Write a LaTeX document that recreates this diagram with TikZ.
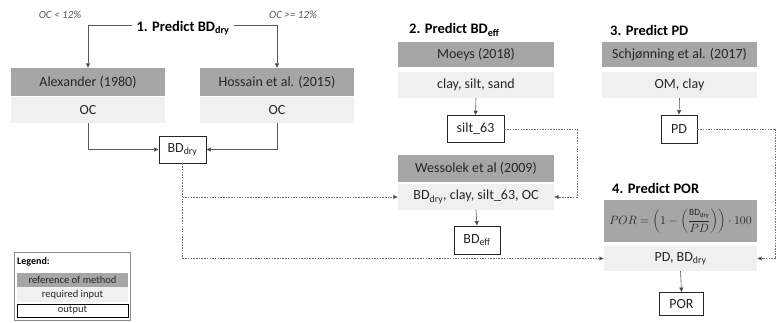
\documentclass[tikz,border=0pt]{standalone}
\usepackage{fontspec}
\setmainfont{Carlito}
\usetikzlibrary{arrows.meta}
\definecolor{refgray}{HTML}{A6A6A6}
\definecolor{inpgray}{HTML}{F0F0F0}
\definecolor{txt}{HTML}{262626}
\definecolor{linegray}{HTML}{595959}
\newcommand{\sdry}{BD\textsubscript{dry}}
\begin{document}
\begin{tikzpicture}[x=1pt,y=-1pt,
  every node/.style={inner sep=0pt, text=txt, font=\fontsize{14}{16}\selectfont},
  refbox/.style={fill=refgray, minimum width=#1, minimum height=26pt},
  refbox/.default=155pt,
  inbox/.style={fill=inpgray, minimum width=#1, minimum height=26pt},
  inbox/.default=155pt,
  outbox/.style={draw=black!85, line width=0.9pt, fill=white, minimum height=27pt},
  ttl/.style={font=\bfseries\fontsize{14.5}{16}\selectfont, text=black},
  cond/.style={font=\itshape\fontsize{11}{12}\selectfont, text=black!65},
  legf/.style={font=\fontsize{10.5}{12}\selectfont},
  arr/.style={draw=linegray, line width=0.6pt, -{Triangle[length=4.5pt,width=4pt,fill=black!80]}},
  darr/.style={draw=black!55, line width=0.6pt, dash pattern=on 1.5pt off 1.2pt, -{Triangle[length=4.5pt,width=4pt,fill=black!80]}},
  dline/.style={draw=black!55, line width=0.6pt, dash pattern=on 1.5pt off 1.2pt},
]
\useasboundingbox (0,0) rectangle (776,322);

% --- 1. Predict BDdry
\node[ttl] (t1) at (183,28) {1. Predict BD\textsubscript{dry}};
\node[cond] (c1) at (60,15) {OC < 12\%};
\node[cond] (c2) at (293,15) {OC >= 12\%};
\node[refbox=154pt, minimum height=28pt] (alex) at (88,82) {Alexander (1980)};
\node[inbox=154pt] (alexin) at (88,110) {OC};
\node[refbox=154pt, minimum height=28pt] (hoss) at (277,82) {Hossain et al. (2015)};
\node[inbox=154pt] (hossin) at (277,110) {OC};
\node[outbox, minimum width=47pt] (bddry) at (182.5,149.5) {\sdry};

\draw[arr] ([xshift=-4pt]t1.west |- 0,25) -| (alex.north);
\draw[arr] ([xshift=4pt]t1.east |- 0,25) -| (hoss.north);
\draw[arr] (alexin.south) |- (bddry.west);
\draw[arr] (hossin.south) |- (bddry.east);

% --- 2. Predict BDeff
\node[ttl, anchor=west] (t2) at (409,30) {2. Predict BD\textsubscript{eff}};
\node[refbox=156pt, minimum height=25pt] (moeys) at (476,54.5) {Moeys (2018)};
\node[inbox=156pt] (moeysin) at (476,85) {clay, silt, sand};
\node[outbox, minimum width=57pt] (silt) at (475.5,129) {silt\_63};
\node[refbox=156pt, minimum height=27pt] (wess) at (476,168.5) {Wessolek et al (2009)};
\node[inbox=156pt] (wessin) at (476,197) {\sdry, clay, silt\_63, OC};
\node[outbox, minimum width=46pt, minimum height=28pt] (bdeff) at (477,240) {BD\textsubscript{eff}};

\draw[arr] (moeysin.south) -- (silt.north);
\draw[arr] (wessin.south) -- (bdeff.north);

% --- 3. Predict PD
\node[ttl, anchor=west] (t3) at (610,30) {3. Predict PD};
\node[refbox=155pt, minimum height=25pt] (schj) at (679.5,54.5) {Schjønning et al. (2017)};
\node[inbox=155pt] (schjin) at (679.5,85) {OM, clay};
\node[outbox, minimum width=36pt, minimum height=28pt] (pd) at (679,129) {PD};
\draw[arr] (schjin.south) -- (pd.north);

% --- 4. Predict POR
\node[ttl, anchor=west] (t4) at (612,188) {4. Predict POR};
\node[refbox=153pt, minimum height=42pt, font=\fontsize{11.5}{13}\selectfont] (form) at (680.5,221)
  {$\displaystyle POR=\left(1-\left(\frac{\hbox{\fontsize{9.5}{10}\selectfont BD\textsubscript{dry}}}{PD}\right)\right)\cdot 100$};
\node[inbox=153pt, minimum height=25pt] (porin) at (680.5,258.5) {PD, \sdry};
\node[outbox, minimum width=44pt, minimum height=23pt] (por) at (681.5,304) {POR};
\draw[arr] (porin.south) -- (por.north);

% --- dashed connectors
\coordinate (s1) at (577,128);
\coordinate (e1) at (775.5,133);
\draw[dline] (silt.east) -- (s1 |- silt.east) -- (s1 |- wessin.east);
\draw[darr] (s1 |- wessin.east) -- (wessin.east);
\draw[dline] (bddry.south) -- (bddry.south |- porin.west);
\draw[darr] (bddry.south |- wessin.west) -- (wessin.west);
\draw[darr] (bddry.south |- porin.west) -- (porin.west);
\draw[dline] (pd.east) -- (e1 |- pd.east) -- (e1 |- porin.east);
\draw[darr] (e1 |- porin.east) -- (porin.east);

% --- legend
\node[draw=black!45, line width=0.5pt, minimum width=116pt, minimum height=68pt] (leg) at (72,286) {};
\node[font=\bfseries\fontsize{10}{11}\selectfont, text=black, anchor=west] (legt) at (17,262) {Legend:};
\node[legf, fill=refgray, minimum width=111pt, minimum height=14pt] (lref) at (72.5,280) {reference of method};
\node[legf, fill=inpgray, minimum width=111pt, minimum height=15pt] (lin) at (72.5,294.5) {required input};
\node[legf, draw=black, line width=0.8pt, minimum width=111pt, minimum height=13pt] (lout) at (72.5,310.5) {output};
\end{tikzpicture}
\end{document}
